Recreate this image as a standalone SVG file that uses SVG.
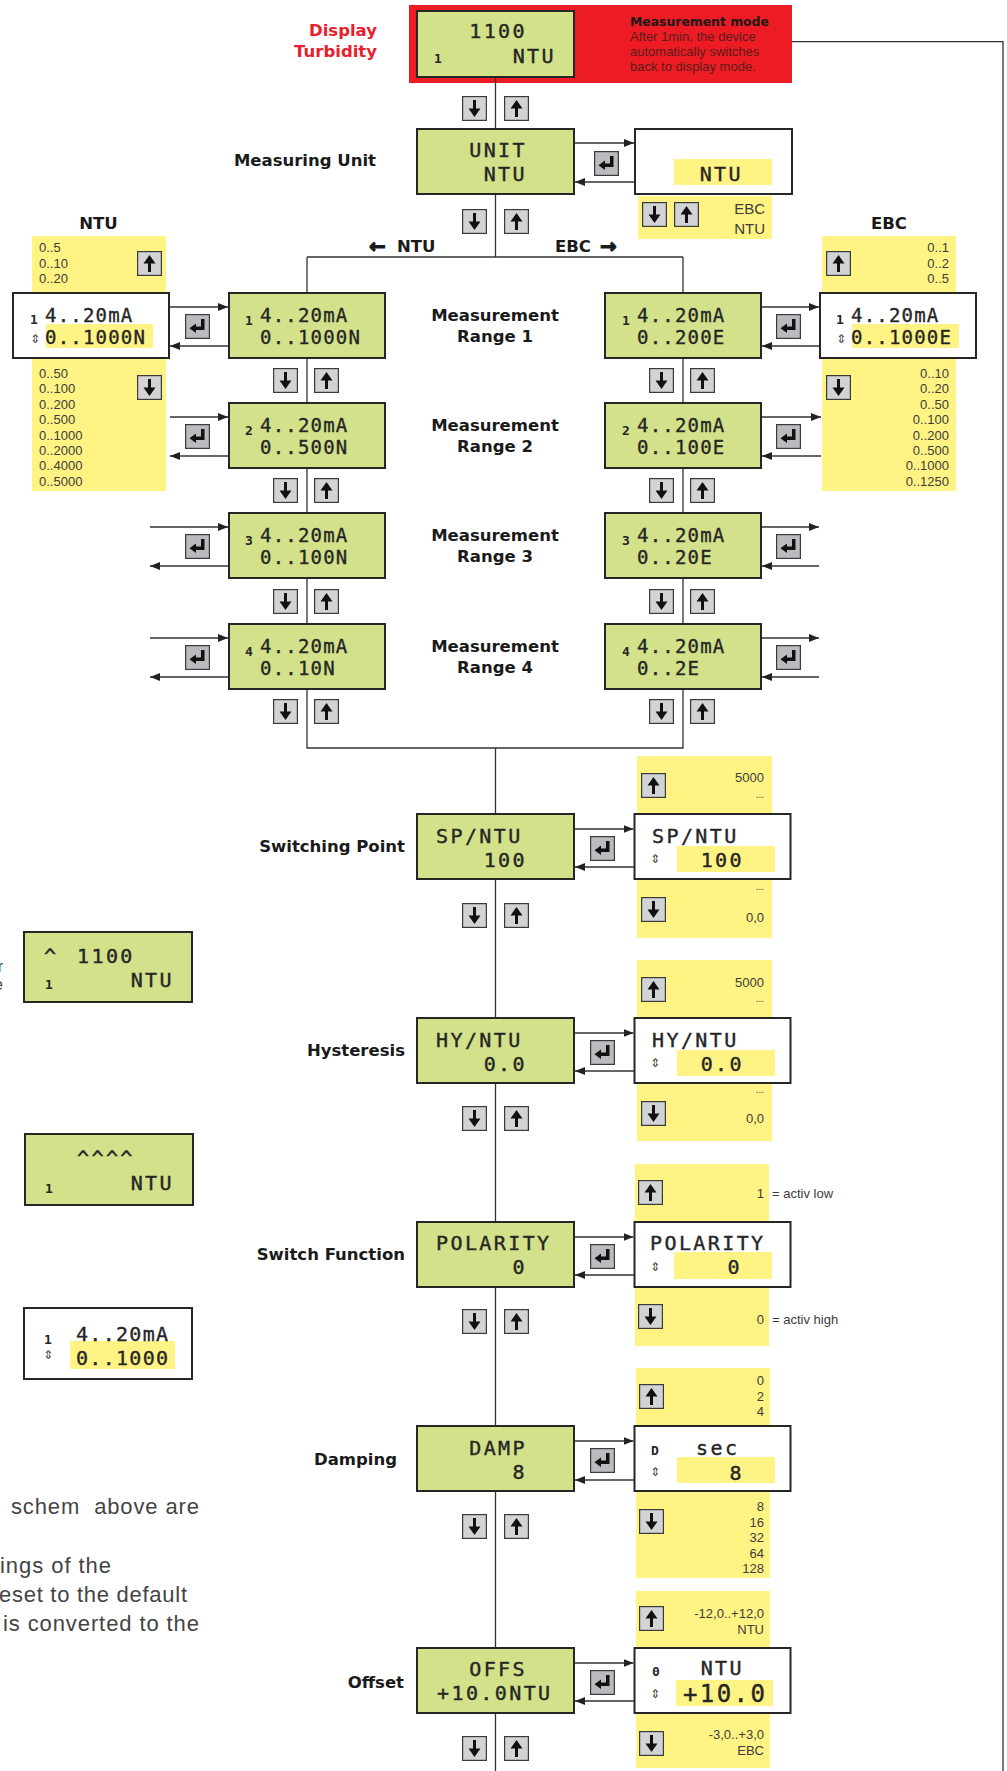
<svg xmlns="http://www.w3.org/2000/svg" xmlns:xlink="http://www.w3.org/1999/xlink" width="1007" height="1771" viewBox="0 0 1007 1771">
<defs>
<style>
.lcd{fill:#d3e18a;stroke:#262626;stroke-width:2}
.wbox{fill:#fff;stroke:#262626;stroke-width:2}
.yel{fill:#fff383}
.ln{stroke:#333;stroke-width:1.3;fill:none}
.arr{stroke:#333;stroke-width:1.3;fill:none;marker-end:url(#ah)}
.t{font-family:"DejaVu Sans Mono","Liberation Mono",monospace;fill:#262626}
.big{font-size:20px;letter-spacing:2.4px;stroke:#262626;stroke-width:0.4}
.mid{font-size:19px;letter-spacing:1.2px;stroke:#262626;stroke-width:0.35}
.sm{font-size:13px;font-weight:bold}
.lab{font-family:"DejaVu Sans","Liberation Sans",sans-serif;font-weight:bold;font-size:16.5px;fill:#1a1a1a}
.arw{font-size:20px;stroke:#1a1a1a;stroke-width:1}
.lst{font-family:"Liberation Sans",Arial,sans-serif;font-size:13px;fill:#3c3c3c}
.ud{font-family:"DejaVu Sans",sans-serif;font-size:12px;fill:#444}
.note{font-family:"Liberation Sans",Arial,sans-serif;font-size:22px;fill:#444}
.e{text-anchor:end}
.m{text-anchor:middle}
</style>
<marker id="ah" markerUnits="userSpaceOnUse" markerWidth="10" markerHeight="8" viewBox="0 0 10 8" refX="10" refY="4" orient="auto"><path d="M0 0 L10 4 L0 8 Z" fill="#222"/></marker>
<symbol id="kd" viewBox="0 0 25 25"><rect x="0.6" y="0.6" width="23.8" height="23.8" fill="#d1d3d4" stroke="#3a3a3a" stroke-width="1.2"/><rect x="11" y="4" width="3" height="10" fill="#111"/><path d="M6.5 12.5 H18.5 L12.5 21 Z" fill="#111"/></symbol>
<symbol id="ku" viewBox="0 0 25 25"><rect x="0.6" y="0.6" width="23.8" height="23.8" fill="#d1d3d4" stroke="#3a3a3a" stroke-width="1.2"/><rect x="11" y="11" width="3" height="10" fill="#111"/><path d="M6.5 12.5 H18.5 L12.5 4 Z" fill="#111"/></symbol>
<symbol id="ke" viewBox="0 0 25 25"><rect x="0.6" y="0.6" width="23.8" height="23.8" fill="#b9bbbe" stroke="#3a3a3a" stroke-width="1.2"/><path d="M16 5 H19.5 V16 H10.5 V12.5 H16 Z" fill="#111"/><path d="M4.5 14.25 L11 9.5 V19 Z" fill="#111"/></symbol>
</defs>
<rect width="1007" height="1771" fill="#fff"/>

<g id="mode-panel">
<rect x="409" y="5" width="383" height="78" fill="#ed1c24"/>
<text x="630" y="26" style="font-family:'DejaVu Sans',sans-serif;font-weight:bold;font-size:12.4px;fill:#1a1a1a">Measurement mode</text>
<text x="630" y="41" style="font-family:'Liberation Sans',sans-serif;font-size:13px;fill:#5a1c1c">After 1min, the device</text>
<text x="630" y="56" style="font-family:'Liberation Sans',sans-serif;font-size:13px;fill:#5a1c1c">automatically switches</text>
<text x="630" y="71" style="font-family:'Liberation Sans',sans-serif;font-size:13px;fill:#5a1c1c">back to display mode.</text>
</g>

<g id="connectors">
<path class="ln" d="M495.5 77 V257"/>
<path class="ln" d="M307 257 H683"/>
<path class="ln" d="M307 257 V748 H683 V257"/>
<path class="ln" d="M495.5 748 V1771"/>
<path class="ln" d="M792 41.7 H1003 V1771"/>
<path class="arr" d="M574 143 H634"/>
<path class="arr" d="M635 182 H575"/>
<path class="arr" d="M170 307 H228"/><path class="arr" d="M228 346 H170"/>
<path class="arr" d="M170 417 H228"/><path class="arr" d="M228 456 H170"/>
<path class="arr" d="M150 527 H228"/><path class="arr" d="M228 566 H150"/>
<path class="arr" d="M150 638 H228"/><path class="arr" d="M228 677 H150"/>
<path class="arr" d="M761 307 H819"/><path class="arr" d="M819 346 H762"/>
<path class="arr" d="M761 417 H821"/><path class="arr" d="M821 456 H762"/>
<path class="arr" d="M761 527 H819"/><path class="arr" d="M819 566 H762"/>
<path class="arr" d="M761 638 H819"/><path class="arr" d="M819 677 H762"/>
<path class="arr" d="M574 829 H633.5"/><path class="arr" d="M634.5 867 H575"/>
<path class="arr" d="M574 1033 H633.5"/><path class="arr" d="M634.5 1071 H575"/>
<path class="arr" d="M574 1237 H633.5"/><path class="arr" d="M634.5 1275 H575"/>
<path class="arr" d="M574 1441 H633.5"/><path class="arr" d="M634.5 1480 H575"/>
<path class="arr" d="M574 1663 H633.5"/><path class="arr" d="M634.5 1701 H575"/>
</g>

<g id="labels">
<text class="lab e" x="377" y="36" style="fill:#e8202a">Display</text>
<text class="lab e" x="377" y="57" style="fill:#e8202a">Turbidity</text>
<text class="lab e" x="376" y="166">Measuring Unit</text>
<text class="lab m" x="98.5" y="229">NTU</text>
<text class="lab m" x="889" y="229">EBC</text>
<text class="lab" x="369" y="253"><tspan class="arw">←</tspan><tspan x="397" y="252">NTU</tspan></text>
<text class="lab" x="555" y="252">EBC<tspan class="arw" x="600" y="253">→</tspan></text>
<text class="lab m" x="495" y="321">Measurement</text><text class="lab m" x="495" y="342">Range 1</text>
<text class="lab m" x="495" y="431">Measurement</text><text class="lab m" x="495" y="452">Range 2</text>
<text class="lab m" x="495" y="541">Measurement</text><text class="lab m" x="495" y="562">Range 3</text>
<text class="lab m" x="495" y="652">Measurement</text><text class="lab m" x="495" y="673">Range 4</text>
<text class="lab e" x="405" y="852">Switching Point</text>
<text class="lab e" x="405" y="1056">Hysteresis</text>
<text class="lab e" x="405" y="1260">Switch Function</text>
<text class="lab e" x="397" y="1465">Damping</text>
<text class="lab e" x="404" y="1688">Offset</text>
</g>

<g id="display">
<rect class="lcd" x="417" y="11" width="157" height="66"/>
<text class="t big e" x="527" y="38">1100</text>
<text class="t big e" x="556" y="63">NTU</text>
<text class="t sm" x="434" y="63">1</text>
<use href="#kd" x="462" y="96" width="25" height="25"/>
<use href="#ku" x="504" y="96" width="25" height="25"/>
</g>

<g id="unit">
<rect class="lcd" x="417" y="129" width="157" height="65"/>
<text class="t big e" x="527" y="157">UNIT</text>
<text class="t big e" x="527" y="181">NTU</text>
<use href="#kd" x="462" y="209" width="25" height="25"/>
<use href="#ku" x="504" y="209" width="25" height="25"/>
</g>
<g id="unit-edit">
<rect class="wbox" x="635" y="129" width="157" height="65"/>
<rect class="yel" x="674" y="159" width="98" height="26"/>
<text class="t big e" x="743" y="181">NTU</text>
<use href="#ke" x="594" y="151" width="25" height="25"/>
<rect class="yel" x="638" y="196" width="134" height="43"/>
<use href="#kd" x="642" y="202" width="25" height="25"/>
<use href="#ku" x="674" y="202" width="25" height="25"/>
<text class="lst e" x="765" y="214" style="font-size:15px">EBC</text>
<text class="lst e" x="765" y="234" style="font-size:15px">NTU</text>
</g>

<g id="ntu-edit">
<rect class="yel" x="32" y="236" width="134" height="255"/>
<use href="#ku" x="137" y="251" width="25" height="25"/>
<use href="#kd" x="137" y="375" width="25" height="25"/>
<text class="lst" x="39" y="252">0..5</text>
<text class="lst" x="39" y="268">0..10</text>
<text class="lst" x="39" y="283">0..20</text>
<text class="lst" x="39" y="378">0..50</text>
<text class="lst" x="39" y="393">0..100</text>
<text class="lst" x="39" y="409">0..200</text>
<text class="lst" x="39" y="424">0..500</text>
<text class="lst" x="39" y="440">0..1000</text>
<text class="lst" x="39" y="455">0..2000</text>
<text class="lst" x="39" y="470">0..4000</text>
<text class="lst" x="39" y="486">0..5000</text>
<rect class="wbox" x="13" y="293" width="156" height="65"/>
<rect class="yel" x="46" y="324" width="107" height="24"/>
<text class="t sm" x="30" y="324">1</text>
<text class="t mid" x="45" y="321.5">4..20mA</text>
<text class="ud" x="30" y="343">⇕</text>
<text class="t mid" x="45" y="344">0..1000N</text>
</g>

<g id="ebc-edit">
<rect class="yel" x="822" y="236" width="134" height="255"/>
<use href="#ku" x="826" y="251" width="25" height="25"/>
<use href="#kd" x="826" y="375" width="25" height="25"/>
<text class="lst e" x="949" y="252">0..1</text>
<text class="lst e" x="949" y="268">0..2</text>
<text class="lst e" x="949" y="283">0..5</text>
<text class="lst e" x="949" y="378">0..10</text>
<text class="lst e" x="949" y="393">0..20</text>
<text class="lst e" x="949" y="409">0..50</text>
<text class="lst e" x="949" y="424">0..100</text>
<text class="lst e" x="949" y="440">0..200</text>
<text class="lst e" x="949" y="455">0..500</text>
<text class="lst e" x="949" y="470">0..1000</text>
<text class="lst e" x="949" y="486">0..1250</text>
<rect class="wbox" x="820" y="293" width="156" height="65"/>
<rect class="yel" x="852" y="324" width="107" height="24"/>
<text class="t sm" x="836" y="324">1</text>
<text class="t mid" x="851" y="321.5">4..20mA</text>
<text class="ud" x="836" y="343">⇕</text>
<text class="t mid" x="851" y="344">0..1000E</text>
</g>

<g id="ntu-range1">
<rect class="lcd" x="229" y="293" width="156" height="65"/>
<text class="t sm" x="245" y="325">1</text>
<text class="t mid" x="260" y="321.5">4..20mA</text>
<text class="t mid" x="260" y="344">0..1000N</text>
<use href="#ke" x="185" y="314" width="25" height="25"/>
<use href="#kd" x="273" y="368" width="25" height="25"/>
<use href="#ku" x="314" y="368" width="25" height="25"/>
</g>
<g id="ntu-range2">
<rect class="lcd" x="229" y="403" width="156" height="65"/>
<text class="t sm" x="245" y="435">2</text>
<text class="t mid" x="260" y="431.5">4..20mA</text>
<text class="t mid" x="260" y="454">0..500N</text>
<use href="#ke" x="185" y="424" width="25" height="25"/>
<use href="#kd" x="273" y="478" width="25" height="25"/>
<use href="#ku" x="314" y="478" width="25" height="25"/>
</g>
<g id="ntu-range3">
<rect class="lcd" x="229" y="513" width="156" height="65"/>
<text class="t sm" x="245" y="545">3</text>
<text class="t mid" x="260" y="541.5">4..20mA</text>
<text class="t mid" x="260" y="564">0..100N</text>
<use href="#ke" x="185" y="534" width="25" height="25"/>
<use href="#kd" x="273" y="589" width="25" height="25"/>
<use href="#ku" x="314" y="589" width="25" height="25"/>
</g>
<g id="ntu-range4">
<rect class="lcd" x="229" y="624" width="156" height="65"/>
<text class="t sm" x="245" y="656">4</text>
<text class="t mid" x="260" y="652.5">4..20mA</text>
<text class="t mid" x="260" y="675">0..10N</text>
<use href="#ke" x="185" y="645" width="25" height="25"/>
<use href="#kd" x="273" y="699" width="25" height="25"/>
<use href="#ku" x="314" y="699" width="25" height="25"/>
</g>

<g id="ebc-range1">
<rect class="lcd" x="605" y="293" width="156" height="65"/>
<text class="t sm" x="622" y="325">1</text>
<text class="t mid" x="637" y="321.5">4..20mA</text>
<text class="t mid" x="637" y="344">0..200E</text>
<use href="#ke" x="776" y="314" width="25" height="25"/>
<use href="#kd" x="649" y="368" width="25" height="25"/>
<use href="#ku" x="690" y="368" width="25" height="25"/>
</g>
<g id="ebc-range2">
<rect class="lcd" x="605" y="403" width="156" height="65"/>
<text class="t sm" x="622" y="435">2</text>
<text class="t mid" x="637" y="431.5">4..20mA</text>
<text class="t mid" x="637" y="454">0..100E</text>
<use href="#ke" x="776" y="424" width="25" height="25"/>
<use href="#kd" x="649" y="478" width="25" height="25"/>
<use href="#ku" x="690" y="478" width="25" height="25"/>
</g>
<g id="ebc-range3">
<rect class="lcd" x="605" y="513" width="156" height="65"/>
<text class="t sm" x="622" y="545">3</text>
<text class="t mid" x="637" y="541.5">4..20mA</text>
<text class="t mid" x="637" y="564">0..20E</text>
<use href="#ke" x="776" y="534" width="25" height="25"/>
<use href="#kd" x="649" y="589" width="25" height="25"/>
<use href="#ku" x="690" y="589" width="25" height="25"/>
</g>
<g id="ebc-range4">
<rect class="lcd" x="605" y="624" width="156" height="65"/>
<text class="t sm" x="622" y="656">4</text>
<text class="t mid" x="637" y="652.5">4..20mA</text>
<text class="t mid" x="637" y="675">0..2E</text>
<use href="#ke" x="776" y="645" width="25" height="25"/>
<use href="#kd" x="649" y="699" width="25" height="25"/>
<use href="#ku" x="690" y="699" width="25" height="25"/>
</g>

<g id="switching-point">
<rect class="lcd" x="417" y="814" width="157" height="65"/>
<text class="t big" x="436" y="843">SP/NTU</text>
<text class="t big e" x="527" y="867">100</text>
<use href="#kd" x="462" y="903" width="25" height="25"/>
<use href="#ku" x="504" y="903" width="25" height="25"/>
</g>
<g id="sp-edit">
<rect class="yel" x="637" y="756" width="135" height="182"/>
<use href="#ku" x="641" y="773" width="25" height="25"/>
<use href="#kd" x="641" y="897" width="25" height="25"/>
<text class="lst e" x="764" y="782">5000</text>
<text class="lst e" x="764" y="798" style="font-size:10px">...</text>
<text class="lst e" x="764" y="890" style="font-size:10px">...</text>
<text class="lst e" x="764" y="922">0,0</text>
<rect class="wbox" x="634.5" y="814" width="156" height="65"/>
<rect class="yel" x="677" y="846" width="98" height="26"/>
<text class="t big" x="652" y="843">SP/NTU</text>
<text class="ud" x="650" y="863">⇕</text>
<text class="t big e" x="744" y="867">100</text>
<use href="#ke" x="590" y="836" width="25" height="25"/>
</g>

<g id="hysteresis">
<rect class="lcd" x="417" y="1018" width="157" height="65"/>
<text class="t big" x="436" y="1047">HY/NTU</text>
<text class="t big e" x="527" y="1071">0.0</text>
<use href="#kd" x="462" y="1106" width="25" height="25"/>
<use href="#ku" x="504" y="1106" width="25" height="25"/>
</g>
<g id="hy-edit">
<rect class="yel" x="637" y="960" width="135" height="181"/>
<use href="#ku" x="641" y="977" width="25" height="25"/>
<use href="#kd" x="641" y="1101" width="25" height="25"/>
<text class="lst e" x="764" y="987">5000</text>
<text class="lst e" x="764" y="1002" style="font-size:10px">...</text>
<text class="lst e" x="764" y="1093" style="font-size:10px">...</text>
<text class="lst e" x="764" y="1123">0,0</text>
<rect class="wbox" x="634.5" y="1018" width="156" height="65"/>
<rect class="yel" x="677" y="1050" width="98" height="26"/>
<text class="t big" x="652" y="1047">HY/NTU</text>
<text class="ud" x="650" y="1067">⇕</text>
<text class="t big e" x="744" y="1071">0.0</text>
<use href="#ke" x="590" y="1040" width="25" height="25"/>
</g>

<g id="switch-function">
<rect class="lcd" x="417" y="1222" width="157" height="65"/>
<text class="t big" x="436" y="1250">POLARITY</text>
<text class="t big e" x="527" y="1274">0</text>
<use href="#kd" x="462" y="1309" width="25" height="25"/>
<use href="#ku" x="504" y="1309" width="25" height="25"/>
</g>
<g id="pol-edit">
<rect class="yel" x="635" y="1164" width="134" height="182"/>
<use href="#ku" x="638" y="1180" width="25" height="25"/>
<use href="#kd" x="638" y="1304" width="25" height="25"/>
<text class="lst e" x="764" y="1198">1</text>
<text class="lst" x="772" y="1198">= activ low</text>
<text class="lst e" x="764" y="1324">0</text>
<text class="lst" x="772" y="1324">= activ high</text>
<rect class="wbox" x="634.5" y="1222" width="156" height="65"/>
<rect class="yel" x="674" y="1252" width="98" height="27"/>
<text class="t big" x="650" y="1250">POLARITY</text>
<text class="ud" x="650" y="1271">⇕</text>
<text class="t big e" x="742" y="1274">0</text>
<use href="#ke" x="590" y="1244" width="25" height="25"/>
</g>

<g id="damping">
<rect class="lcd" x="417" y="1426" width="157" height="65"/>
<text class="t big e" x="527" y="1455">DAMP</text>
<text class="t big e" x="527" y="1479">8</text>
<use href="#kd" x="462" y="1514" width="25" height="25"/>
<use href="#ku" x="504" y="1514" width="25" height="25"/>
</g>
<g id="damp-edit">
<rect class="yel" x="636" y="1368" width="134" height="210"/>
<use href="#ku" x="639" y="1384" width="25" height="25"/>
<use href="#kd" x="639" y="1509" width="25" height="25"/>
<text class="lst e" x="764" y="1385">0</text>
<text class="lst e" x="764" y="1401">2</text>
<text class="lst e" x="764" y="1416">4</text>
<text class="lst e" x="764" y="1511">8</text>
<text class="lst e" x="764" y="1527">16</text>
<text class="lst e" x="764" y="1542">32</text>
<text class="lst e" x="764" y="1558">64</text>
<text class="lst e" x="764" y="1573">128</text>
<rect class="wbox" x="634.5" y="1426" width="156" height="65"/>
<rect class="yel" x="677" y="1457" width="98" height="26"/>
<text class="t sm" x="651" y="1455">D</text>
<text class="t big" x="696" y="1455">sec</text>
<text class="ud" x="650" y="1476">⇕</text>
<text class="t big e" x="744" y="1480">8</text>
<use href="#ke" x="590" y="1448" width="25" height="25"/>
</g>

<g id="offset">
<rect class="lcd" x="417" y="1648" width="157" height="65"/>
<text class="t big e" x="527" y="1676">OFFS</text>
<text class="t big" x="437" y="1700">+10.0NTU</text>
<use href="#kd" x="462" y="1736" width="25" height="25"/>
<use href="#ku" x="504" y="1736" width="25" height="25"/>
</g>
<g id="offs-edit">
<rect class="yel" x="636" y="1591" width="134" height="177"/>
<use href="#ku" x="639" y="1606" width="25" height="25"/>
<use href="#kd" x="639" y="1731" width="25" height="25"/>
<text class="lst e" x="764" y="1618">-12,0..+12,0</text>
<text class="lst e" x="764" y="1634">NTU</text>
<text class="lst e" x="764" y="1739">-3,0..+3,0</text>
<text class="lst e" x="764" y="1755">EBC</text>
<rect class="wbox" x="634.5" y="1648" width="156" height="65"/>
<rect class="yel" x="676" y="1680" width="97" height="26"/>
<text class="t sm" x="652" y="1676">0</text>
<text class="t big e" x="744" y="1675">NTU</text>
<text class="ud" x="650" y="1698">⇕</text>
<text class="t" x="683" y="1702" style="font-size:24px;letter-spacing:2.4px;stroke:#262626;stroke-width:0.4">+10.0</text>
<use href="#ke" x="590" y="1670" width="25" height="25"/>
</g>

<g id="legend-1">
<rect class="lcd" x="24" y="932" width="168" height="70"/>
<text class="t big" x="44" y="963">^<tspan x="77">1100</tspan></text>
<text class="t big e" x="174" y="987">NTU</text>
<text class="t sm" x="45" y="989">1</text>
</g>
<g id="legend-2">
<rect class="lcd" x="25" y="1134" width="168" height="71"/>
<text class="t big" x="77" y="1165">^^^^</text>
<text class="t big e" x="174" y="1190">NTU</text>
<text class="t sm" x="45" y="1193">1</text>
</g>
<g id="legend-3">
<rect class="wbox" x="24" y="1308" width="168" height="71"/>
<rect class="yel" x="70" y="1341" width="105" height="28"/>
<text class="t sm" x="44" y="1344">1</text>
<text class="t" x="76" y="1341" style="font-size:20px;letter-spacing:1.3px;stroke:#262626;stroke-width:0.35">4..20mA</text>
<text class="ud" x="43" y="1359">⇕</text>
<text class="t" x="76" y="1365" style="font-size:20px;letter-spacing:1.3px;stroke:#262626;stroke-width:0.35">0..1000</text>
</g>

<g id="notes">
<text class="note e" x="3" y="972" style="font-size:16px">r</text>
<text class="note e" x="3" y="990" style="font-size:16px">e</text>
<text class="note" x="11" y="1514" textLength="188" lengthAdjust="spacing" xml:space="preserve" style="white-space:pre">schem  above are</text>
<text class="note" x="0" y="1573" textLength="111" lengthAdjust="spacing">ings of the</text>
<text class="note" x="-1" y="1602" textLength="188" lengthAdjust="spacing">eset to the default</text>
<text class="note" x="3" y="1631" textLength="196" lengthAdjust="spacing">is converted to the</text>
</g>
</svg>
